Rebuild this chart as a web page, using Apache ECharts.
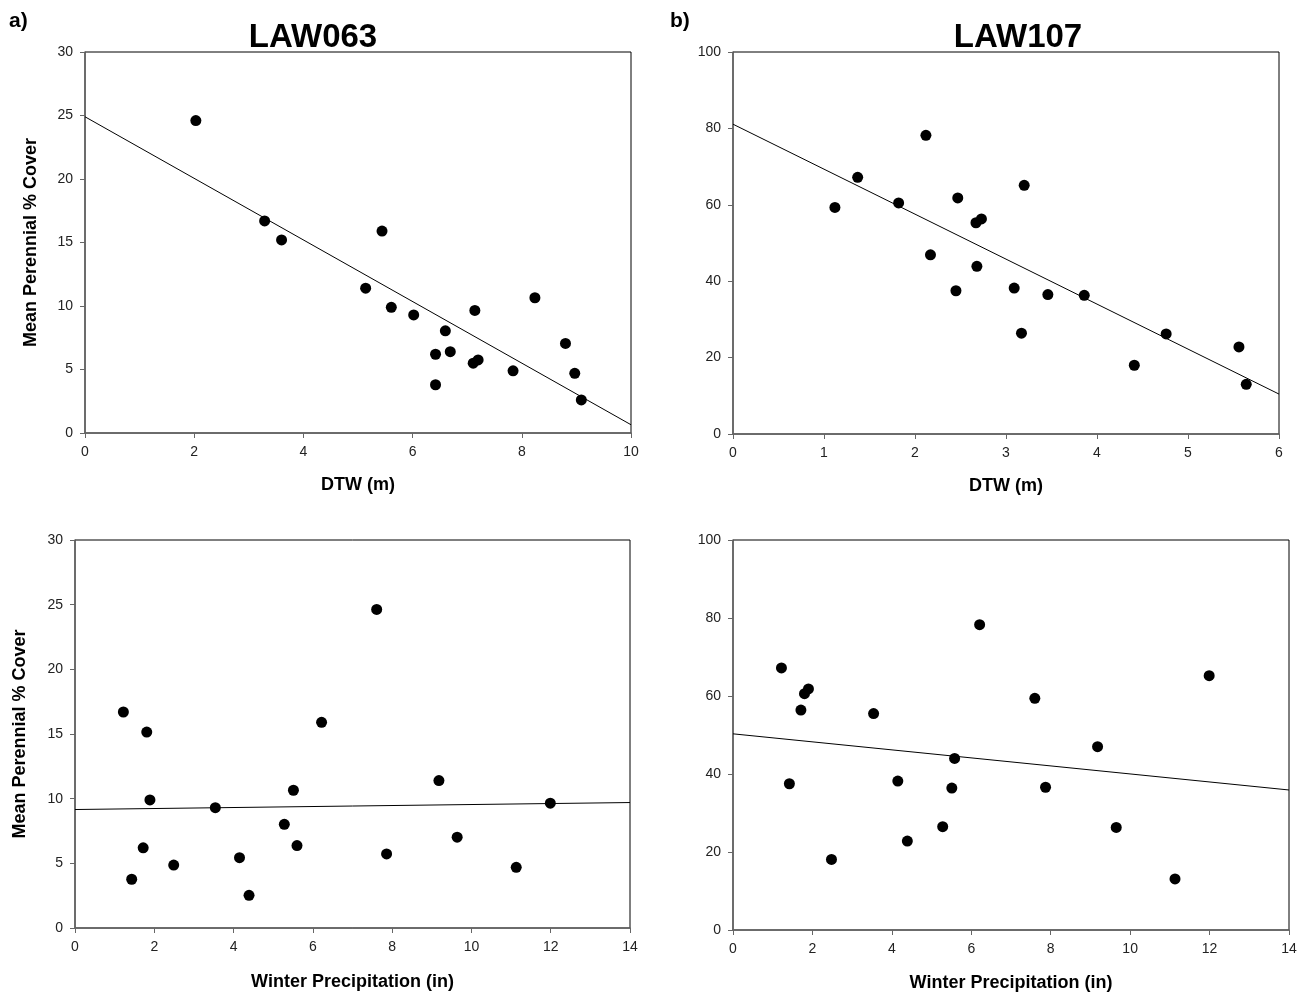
<!DOCTYPE html>
<html>
<head>
<meta charset="utf-8">
<script src="https://cdn.jsdelivr.net/npm/echarts@6/dist/echarts.min.js"></script>
<style>
html,body{margin:0;padding:0;background:#fff;}
#chart{width:1313px;height:1002px;}
</style>
</head>
<body>
<div id="chart"></div>
<script>
// ---- Data ----
// LAW063: DTW (m) vs cover
const dtwA   = [2.03, 3.29, 3.60, 5.44, 5.14, 5.61, 6.02, 6.60, 6.42, 6.69, 6.42, 7.14, 7.11, 7.20, 7.84, 8.24, 8.80, 8.97, 9.09];
const coverA = [24.6, 16.7, 15.2, 15.9, 11.4, 9.9, 9.3, 8.05, 6.2, 6.4, 3.8, 9.65, 5.5, 5.75, 4.9, 10.65, 7.05, 4.7, 2.6];
const fitA   = [[0, 24.9], [10, 0.65]];

// LAW107: DTW (m) vs cover
const dtwB   = [1.12, 1.37, 1.82, 2.12, 2.17, 2.47, 2.45, 2.67, 2.73, 2.68, 3.09, 3.17, 3.20, 3.46, 3.86, 4.41, 4.76, 5.56, 5.64];
const coverB = [59.3, 67.2, 60.5, 78.2, 46.9, 61.8, 37.5, 55.3, 56.3, 43.9, 38.2, 26.4, 65.1, 36.5, 36.3, 18.0, 26.2, 22.8, 13.0];
const fitB   = [[0, 81.1], [6, 10.45]];

// LAW063: winter precipitation (in) vs cover
const precipC = [1.22, 1.81, 1.89, 1.72, 1.43, 2.49, 3.54, 4.15, 4.39, 5.28, 5.51, 5.60, 6.22, 7.61, 7.86, 9.18, 9.64, 11.13, 11.99];
const coverC  = [16.7, 15.15, 9.9, 6.2, 3.77, 4.87, 9.3, 5.44, 2.53, 8.02, 10.65, 6.37, 15.9, 24.63, 5.73, 11.4, 7.02, 4.69, 9.65];
const fitC    = [[0, 9.16], [14, 9.7]];

// LAW107: winter precipitation (in) vs cover
const precipD = [1.22, 1.42, 1.71, 1.80, 1.90, 2.48, 3.54, 4.15, 4.39, 5.28, 5.51, 5.58, 6.21, 7.60, 7.87, 9.18, 9.65, 11.13, 11.99];
const coverD  = [67.2, 37.5, 56.4, 60.6, 61.8, 18.1, 55.5, 38.2, 22.8, 26.5, 36.4, 44.0, 78.3, 59.4, 36.6, 47.0, 26.3, 13.1, 65.2];
const fitD    = [[0, 50.3], [14, 35.9]];

const panelTitles = ['LAW063', 'LAW107'];
const panelTags = ['a)', 'b)'];
const xNames = ['DTW (m)', 'DTW (m)', 'Winter Precipitation (in)', 'Winter Precipitation (in)'];
const yName = 'Mean Perennial % Cover';

// ---- Chart ----
const FONT = "'Liberation Sans', Arial, sans-serif";
const zip = (xs, ys) => xs.map((x, i) => [x, ys[i]]);

const grids = [
  {left: 85,  top: 52,  width: 546, height: 381},
  {left: 733, top: 52,  width: 546, height: 382},
  {left: 75,  top: 540, width: 555, height: 388},
  {left: 733, top: 540, width: 556, height: 390}
].map(g => Object.assign({show: true, borderColor: '#000', borderWidth: 1, backgroundColor: 'transparent'}, g));

const xCfg = [
  {max: 10, interval: 2, gap: 43},
  {max: 6, interval: 1, gap: 43},
  {max: 14, interval: 2, gap: 45},
  {max: 14, interval: 2, gap: 44}
];
const yCfg = [
  {max: 30, interval: 5, name: yName, gap: 45},
  {max: 100, interval: 20, name: '', gap: 45},
  {max: 30, interval: 5, name: yName, gap: 46},
  {max: 100, interval: 20, name: '', gap: 45}
];

const axisLine = {show: true, onZero: false, lineStyle: {color: '#666', width: 1.5}};
const axisTick = {show: true, inside: false, length: 5, lineStyle: {color: '#666', width: 1}};
const axisLabel = {color: '#222', fontSize: 14, fontFamily: FONT, margin: 12};

const xAxes = xCfg.map((c, i) => ({
  type: 'value', gridIndex: i, min: 0, max: c.max, interval: c.interval,
  name: xNames[i], nameLocation: 'middle', nameGap: c.gap,
  nameTextStyle: {fontSize: 18, fontWeight: 'bold', color: '#000', fontFamily: FONT},
  axisLine, axisTick, axisLabel, splitLine: {show: false}
}));
const yAxes = yCfg.map((c, i) => ({
  type: 'value', gridIndex: i, min: 0, max: c.max, interval: c.interval,
  name: c.name, nameLocation: 'middle', nameGap: c.gap, nameRotate: 90,
  nameTextStyle: {fontSize: 18, fontWeight: 'bold', color: '#000', fontFamily: FONT},
  axisLine, axisTick, axisLabel, splitLine: {show: false}
}));

const pts = [zip(dtwA, coverA), zip(dtwB, coverB), zip(precipC, coverC), zip(precipD, coverD)];
const fits = [fitA, fitB, fitC, fitD];
const series = [];
for (let i = 0; i < 4; i++) {
  series.push({
    type: 'line', xAxisIndex: i, yAxisIndex: i, data: fits[i],
    symbol: 'none', lineStyle: {color: '#000', width: 1}, silent: true, z: 2
  });
  series.push({
    type: 'scatter', xAxisIndex: i, yAxisIndex: i, data: pts[i],
    symbol: 'circle', symbolSize: 11, itemStyle: {color: '#000', opacity: 1}, z: 3
  });
}

const titles = [
  {text: panelTitles[0], left: 313, top: 21, textAlign: 'center',
   textStyle: {fontSize: 33, fontWeight: 'bold', color: '#000', fontFamily: FONT}},
  {text: panelTitles[1], left: 1018, top: 21, textAlign: 'center',
   textStyle: {fontSize: 33, fontWeight: 'bold', color: '#000', fontFamily: FONT}},
  {text: panelTags[0], left: 9, top: 11,
   textStyle: {fontSize: 21, fontWeight: 'bold', color: '#000', fontFamily: FONT}},
  {text: panelTags[1], left: 670, top: 11,
   textStyle: {fontSize: 21, fontWeight: 'bold', color: '#000', fontFamily: FONT}}
].map(t => Object.assign({padding: 0}, t));

const chart = echarts.init(document.getElementById('chart'), null, {renderer: 'canvas'});
chart.setOption({
  animation: false,
  backgroundColor: '#fff',
  title: titles,
  grid: grids,
  xAxis: xAxes,
  yAxis: yAxes,
  series
});
</script>
</body>
</html>
